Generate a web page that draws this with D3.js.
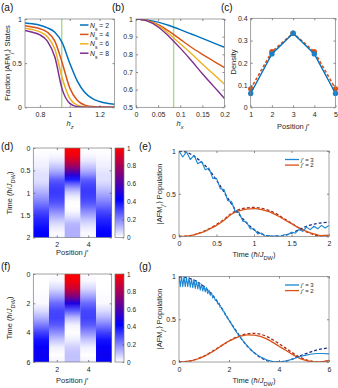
<!DOCTYPE html>
<html>
<head>
<meta charset="utf-8">
<script src="https://cdn.jsdelivr.net/npm/d3@7"></script>
<style>
  body { margin: 0; background: #fff; }
  svg { display: block; }
</style>
</head>
<body>
<div id="fig"></div>
<script>
// ---------- data ----------
// (a) fraction of |AFM_j'> states vs h_z
const hz = [0.7, 0.75, 0.8, 0.85, 0.9, 0.95, 1.0, 1.05, 1.1, 1.15, 1.2, 1.25, 1.3];
const fracN2 = [0.955, 0.945, 0.93, 0.9, 0.85, 0.73, 0.5, 0.3, 0.17, 0.1, 0.065, 0.045, 0.035];
const fracN4 = [0.925, 0.91, 0.89, 0.85, 0.75, 0.5, 0.22, 0.08, 0.025, 0.008, 0.003, 0.001, 0];
const fracN6 = [0.895, 0.88, 0.855, 0.8, 0.66, 0.33, 0.1, 0.025, 0.005, 0.001, 0, 0, 0];
const fracN8 = [0.87, 0.85, 0.82, 0.75, 0.57, 0.2, 0.045, 0.007, 0.001, 0, 0, 0, 0];
const legendA = ["2", "4", "6", "8"];
const hzMark = 0.946;

// (b) fraction vs h_x
const hx = [0, 0.025, 0.05, 0.075, 0.1, 0.125, 0.15, 0.175, 0.2];
const fracBN2 = [1, 0.995, 0.982, 0.963, 0.94, 0.915, 0.89, 0.865, 0.84];
const fracBN4 = [1, 0.992, 0.968, 0.93, 0.885, 0.84, 0.8, 0.762, 0.725];
const fracBN6 = [1, 0.99, 0.962, 0.915, 0.86, 0.805, 0.745, 0.688, 0.63];
const fracBN8 = [1, 0.989, 0.955, 0.9, 0.835, 0.765, 0.69, 0.62, 0.55];
const hxMark = 0.085;

// (c) density vs position
const posC = [1, 2, 3, 4, 5];
const densSolid = [0.062, 0.24, 0.333, 0.24, 0.062];
const densDash = [0.083, 0.25, 0.333, 0.25, 0.083];

// (d) heat map, columns j' = 1..5, rows at t = 0..2 step 0.1
const tD = [0, 0.1, 0.2, 0.3, 0.4, 0.5, 0.6, 0.7, 0.8, 0.9, 1.0, 1.1, 1.2, 1.3, 1.4, 1.5, 1.6, 1.7, 1.8, 1.9, 2.0];
const heatD1 = [0, 0.003, 0.01, 0.02, 0.025, 0.04, 0.05, 0.05, 0.07, 0.1, 0.135, 0.17, 0.21, 0.25, 0.295, 0.33, 0.36, 0.38, 0.405, 0.425, 0.42];
const heatD2 = [0, 0.005, 0.02, 0.045, 0.085, 0.13, 0.19, 0.26, 0.3, 0.32, 0.325, 0.315, 0.29, 0.25, 0.2, 0.15, 0.1, 0.06, 0.03, 0.01, 0.015];
const heatD3 = [1, 0.985, 0.94, 0.87, 0.78, 0.66, 0.52, 0.38, 0.26, 0.16, 0.08, 0.03, 0.005, 0, 0.01, 0.04, 0.08, 0.12, 0.13, 0.13, 0.13];

// (e) populations vs time, 0..2
const tE = [0, 0.05, 0.1, 0.15, 0.2, 0.25, 0.3, 0.35, 0.4, 0.45, 0.5, 0.55, 0.6, 0.65, 0.7, 0.75, 0.8, 0.85, 0.9, 0.95, 1.0,
            1.05, 1.1, 1.15, 1.2, 1.25, 1.3, 1.35, 1.4, 1.45, 1.5, 1.55, 1.6, 1.65, 1.7, 1.75, 1.8, 1.85, 1.9, 1.95, 2.0];
const popE3 = [1.0, 0.93, 0.99, 0.9, 0.95, 0.85, 0.88, 0.78, 0.8, 0.68, 0.68, 0.56, 0.55, 0.42, 0.41, 0.29, 0.28, 0.18, 0.17, 0.09, 0.09,
               0.03, 0.04, 0.0, 0.01, 0.0, 0.01, 0.0, 0.02, 0.02, 0.05, 0.04, 0.08, 0.06, 0.11, 0.08, 0.12, 0.09, 0.13, 0.1, 0.13];
const popE3dash = [1.0, 0.985, 0.94, 0.87, 0.78, 0.66, 0.52, 0.38, 0.26, 0.16, 0.08, 0.03, 0.005, 0, 0.01, 0.04, 0.08, 0.12, 0.145, 0.16, 0.165];
const popE2 = [0, 0.005, 0.02, 0.045, 0.085, 0.13, 0.19, 0.26, 0.3, 0.32, 0.325, 0.315, 0.29, 0.25, 0.2, 0.15, 0.1, 0.06, 0.03, 0.01, 0.015];
const popE2dash = [0, 0.005, 0.02, 0.05, 0.09, 0.14, 0.2, 0.27, 0.315, 0.335, 0.34, 0.33, 0.305, 0.265, 0.21, 0.155, 0.1, 0.055, 0.02, 0.005, 0.005];

// (f) heat map, rows at t = 0..6 step 0.5
const tF = [0, 0.5, 1, 1.5, 2, 2.5, 3, 3.5, 4, 4.5, 5, 5.5, 6];
const heatF1 = [0, 0, 0.002, 0.005, 0.01, 0.06, 0.13, 0.22, 0.315, 0.39, 0.435, 0.45, 0.43];
const heatF2 = [0, 0.015, 0.065, 0.15, 0.245, 0.305, 0.315, 0.27, 0.185, 0.095, 0.025, 0.0, 0.02];
const heatF3 = [1.0, 0.97, 0.88, 0.72, 0.49, 0.27, 0.11, 0.02, 0.0, 0.03, 0.08, 0.1, 0.1];

// (g) populations vs time, 0..6
const tG = [0, 0.05, 0.1, 0.15, 0.2, 0.25, 0.3, 0.35, 0.4, 0.45, 0.5, 0.55, 0.6, 0.65, 0.7, 0.75, 0.8, 0.85, 0.9, 0.95, 1.0,
            1.05, 1.1, 1.15, 1.2, 1.25, 1.3, 1.35, 1.4, 1.45, 1.5, 1.55, 1.6, 1.65, 1.7, 1.75, 1.8, 1.85, 1.9, 1.95, 2.0,
            2.25, 2.5, 2.75, 3.0, 3.25, 3.5, 3.75, 4.0, 4.25, 4.5, 4.75, 5.0, 5.25, 5.5, 5.75, 6.0];
const popG3 = [1.0, 0.88, 1.0, 0.88, 0.995, 0.88, 0.99, 0.88, 0.985, 0.875, 0.97, 0.87, 0.96, 0.86, 0.95, 0.855, 0.93, 0.84, 0.91, 0.83, 0.89,
               0.82, 0.87, 0.8, 0.84, 0.78, 0.81, 0.75, 0.77, 0.72, 0.73, 0.68, 0.69, 0.64, 0.64, 0.6, 0.59, 0.55, 0.54, 0.51, 0.49,
               0.37, 0.27, 0.18, 0.11, 0.06, 0.025, 0.005, 0.0, 0.01, 0.03, 0.055, 0.075, 0.09, 0.1, 0.1, 0.095];
const tG2 = [0, 0.25, 0.5, 0.75, 1, 1.25, 1.5, 1.75, 2, 2.25, 2.5, 2.75, 3, 3.25, 3.5, 3.75, 4, 4.25, 4.5, 4.75, 5, 5.25, 5.5, 5.75, 6];
const popG3dash = [1, 0.99, 0.97, 0.935, 0.88, 0.81, 0.72, 0.61, 0.49, 0.38, 0.27, 0.18, 0.11, 0.055, 0.02, 0.003, 0, 0.01, 0.03, 0.06, 0.09, 0.115, 0.14, 0.155, 0.165];
const popG2 = [0, 0.004, 0.015, 0.035, 0.065, 0.105, 0.15, 0.2, 0.245, 0.28, 0.305, 0.318, 0.315, 0.3, 0.27, 0.23, 0.185, 0.14, 0.095, 0.055, 0.025, 0.006, 0, 0.005, 0.02];
const popG2dash = [0, 0.004, 0.016, 0.04, 0.07, 0.11, 0.155, 0.2, 0.245, 0.285, 0.315, 0.33, 0.335, 0.325, 0.3, 0.26, 0.215, 0.165, 0.115, 0.07, 0.035, 0.012, 0.002, 0.004, 0.015];
const legendE = ["3", "2"];

// ---------- look ----------
const fam = "'Liberation Sans', Arial, Helvetica, sans-serif";
const cBlue = "#0072BD", cOrange = "#D95319", cYellow = "#EDB120", cPurple = "#7E2F8E";
const cNavy = "#1c2f86", cDarkRed = "#a8281a", cGreen = "#a9d98c";
const axisCol = "#3a3a3a", boxCol = "#7a7a7a";

const svg = d3.select("#fig").append("svg")
  .attr("width", 338).attr("height", 388)
  .attr("font-family", fam);

// colormap used by heat maps: white -> blue -> red
const cmap = d3.scaleLinear().domain([0, 0.42, 1]).range(["#ffffff", "#0000ff", "#ff0000"]);

function styleAxis(g, size) {
  g.attr("font-size", size).attr("font-family", fam);
  g.select(".domain").remove();
  g.selectAll("line").attr("stroke", axisCol).attr("stroke-width", 0.6);
  g.selectAll("text").attr("fill", "#262626");
}

// axes with inward ticks on all four sides, MATLAB style
function drawAxes(x, y, xt, yt, fx, fy) {
  const [x0, x1] = x.range();
  const [y0, y1] = y.range();
  const g = svg.append("g");
  g.append("g").attr("transform", `translate(0,${y0})`)
    .call(d3.axisBottom(x).tickValues(xt).tickFormat(fx).tickSize(-2).tickSizeOuter(0).tickPadding(5))
    .call(a => styleAxis(a, 7));
  g.append("g").attr("transform", `translate(0,${y1})`)
    .call(d3.axisTop(x).tickValues(xt).tickFormat("").tickSize(-2).tickSizeOuter(0))
    .call(a => styleAxis(a, 7));
  g.append("g").attr("transform", `translate(${x0},0)`)
    .call(d3.axisLeft(y).tickValues(yt).tickFormat(fy).tickSize(-2).tickSizeOuter(0).tickPadding(3))
    .call(a => styleAxis(a, 7));
  g.append("g").attr("transform", `translate(${x1},0)`)
    .call(d3.axisRight(y).tickValues(yt).tickFormat("").tickSize(-2).tickSizeOuter(0))
    .call(a => styleAxis(a, 7));
  g.append("rect").attr("x", x0).attr("y", y1).attr("width", x1 - x0).attr("height", y0 - y1)
    .attr("fill", "none").attr("stroke", boxCol).attr("stroke-width", 0.7);
  return g;
}

function clipFor(id, x, y) {
  const [x0, x1] = x.range();
  const [y0, y1] = y.range();
  svg.append("clipPath").attr("id", id).append("rect")
    .attr("x", x0).attr("y", y1).attr("width", x1 - x0).attr("height", y0 - y1);
  return "url(#" + id + ")";
}

function drawLine(xs, ys, x, y, color, width, dash, clip) {
  const line = d3.line().x((d, i) => x(xs[i])).y(d => y(d)).curve(d3.curveMonotoneX);
  svg.append("path").datum(ys)
    .attr("d", line)
    .attr("fill", "none")
    .attr("stroke", color)
    .attr("stroke-width", width)
    .attr("stroke-dasharray", dash || null)
    .attr("stroke-linejoin", "round")
    .attr("clip-path", clip || null);
}

function panelLabel(txt, px, py) {
  svg.append("text").attr("x", px).attr("y", py).attr("font-size", 10).attr("fill", "#111").text(txt);
}

// text made of pieces [{t, italic, sub}]
function richText(sel, parts) {
  parts.forEach(p => {
    const ts = sel.append("tspan").text(p.t);
    if (p.italic) ts.attr("font-style", "italic");
    if (p.sub) ts.attr("baseline-shift", "sub").attr("font-size", "75%");
  });
  return sel;
}

function yLabel(parts, px, py, size) {
  const t = svg.append("text").attr("transform", `translate(${px},${py}) rotate(-90)`)
    .attr("text-anchor", "middle").attr("font-size", size || 7.5).attr("fill", "#262626");
  richText(t, parts);
}

function xLabel(parts, px, py, size) {
  const t = svg.append("text").attr("x", px).attr("y", py)
    .attr("text-anchor", "middle").attr("font-size", size || 7.5).attr("fill", "#262626");
  richText(t, parts);
}

const fmtG = d3.format("~g");
const afmParts = [{ t: "|AFM" }, { t: "j′", italic: true, sub: true }, { t: "⟩" }];
const timeParts = [{ t: "Time (" }, { t: "ħ", italic: true }, { t: "/" }, { t: "J", italic: true }, { t: "DW", sub: true }, { t: ")" }];
const posParts = [{ t: "Position " }, { t: "j′", italic: true }];

// ---------- (a) ----------
{
  const x = d3.scaleLinear().domain([0.7, 1.3]).range([25, 114.5]);
  const y = d3.scaleLinear().domain([0, 1]).range([107.3, 19]);
  const clip = clipFor("clipA", x, y);
  svg.append("line").attr("x1", x(hzMark)).attr("x2", x(hzMark)).attr("y1", y(0)).attr("y2", y(1))
    .attr("stroke", cGreen).attr("stroke-width", 1.4);
  const series = [fracN2, fracN4, fracN6, fracN8];
  const cols = [cBlue, cOrange, cYellow, cPurple];
  series.forEach((s, i) => drawLine(hz, s, x, y, cols[i], 1.5, null, clip));
  drawAxes(x, y, [0.8, 1, 1.2], [0, 0.5, 1], fmtG, fmtG);
  legendA.forEach((n, i) => {
    const ly = 25 + i * 9.4;
    svg.append("line").attr("x1", 80).attr("x2", 88.5).attr("y1", ly).attr("y2", ly)
      .attr("stroke", cols[i]).attr("stroke-width", 1.5);
    const t = svg.append("text").attr("x", 90).attr("y", ly + 2.5).attr("font-size", 6.8).attr("fill", "#262626");
    richText(t, [{ t: "N", italic: true }, { t: "s", sub: true }, { t: " = " + n }]);
  });
  yLabel([{ t: "Fraction " }].concat(afmParts, [{ t: " States" }]), 10, 63);
  xLabel([{ t: "h", italic: true }, { t: "z", italic: true, sub: true }], 70, 126);
  panelLabel("(a)", 1, 11);
}

// ---------- (b) ----------
{
  const x = d3.scaleLinear().domain([0, 0.2]).range([136, 224.5]);
  const y = d3.scaleLinear().domain([0.5, 1]).range([107.3, 19]);
  const clip = clipFor("clipB", x, y);
  svg.append("line").attr("x1", x(hxMark)).attr("x2", x(hxMark)).attr("y1", y(0.5)).attr("y2", y(1))
    .attr("stroke", cGreen).attr("stroke-width", 1.4);
  const series = [fracBN2, fracBN4, fracBN6, fracBN8];
  const cols = [cBlue, cOrange, cYellow, cPurple];
  series.forEach((s, i) => drawLine(hx, s, x, y, cols[i], 1.4, null, clip));
  drawAxes(x, y, [0, 0.05, 0.1, 0.15, 0.2], [0.5, 0.6, 0.7, 0.8, 0.9, 1], fmtG, fmtG);
  xLabel([{ t: "h", italic: true }, { t: "x", italic: true, sub: true }], 180, 126);
  panelLabel("(b)", 112, 11);
}

// ---------- (c) ----------
{
  const x = d3.scaleLinear().domain([1, 5]).range([250.7, 335.5]);
  const y = d3.scaleLinear().domain([0, 0.4]).range([107.3, 18.3]);
  const lineC = d3.line().x((d, i) => x(posC[i])).y(d => y(d));
  svg.append("path").datum(densDash).attr("d", lineC).attr("fill", "none")
    .attr("stroke", cOrange).attr("stroke-width", 1.6).attr("stroke-dasharray", "3,2");
  svg.selectAll(".dotC2").data(densDash).join("circle").attr("class", "dotC2")
    .attr("cx", (d, i) => x(posC[i])).attr("cy", d => y(d)).attr("r", 2.7).attr("fill", cOrange);
  svg.append("path").datum(densSolid).attr("d", lineC).attr("fill", "none")
    .attr("stroke", cBlue).attr("stroke-width", 1.4);
  svg.selectAll(".dotC1").data(densSolid).join("circle").attr("class", "dotC1")
    .attr("cx", (d, i) => x(posC[i])).attr("cy", d => y(d)).attr("r", 2.7).attr("fill", "#1a80c8");
  drawAxes(x, y, [1, 2, 3, 4, 5], [0, 0.1, 0.2, 0.3, 0.4], fmtG, fmtG);
  yLabel([{ t: "Density" }], 236, 62);
  xLabel(posParts, 293, 129);
  panelLabel("(c)", 221, 11);
}

// ---------- heat map helper ----------
function heatMap(id, tRows, cols, tMax, y0, y1, yTicks) {
  const x = d3.scaleLinear().domain([0.5, 5.5]).range([33.3, 111.7]);
  const y = d3.scaleLinear().domain([0, tMax]).range([y0, y1]);
  const defs = svg.append("defs");
  cols.forEach((col, j) => {
    const gr = defs.append("linearGradient").attr("id", id + j)
      .attr("x1", 0).attr("y1", 0).attr("x2", 0).attr("y2", 1);
    col.forEach((v, k) => {
      gr.append("stop").attr("offset", (y(tRows[k]) - y0) / (y1 - y0)).attr("stop-color", cmap(v));
    });
    svg.append("rect")
      .attr("x", x(j + 0.5)).attr("y", y0)
      .attr("width", x(j + 1.5) - x(j + 0.5) + 0.3).attr("height", y1 - y0)
      .attr("fill", `url(#${id + j})`);
  });
  const g = svg.append("g");
  g.append("g").attr("transform", `translate(0,${y1})`)
    .call(d3.axisBottom(x).tickValues([2, 4]).tickFormat(fmtG).tickSize(-2).tickSizeOuter(0).tickPadding(5))
    .call(a => styleAxis(a, 7));
  g.append("g").attr("transform", `translate(0,${y0})`)
    .call(d3.axisTop(x).tickValues([2, 4]).tickFormat("").tickSize(-2).tickSizeOuter(0))
    .call(a => styleAxis(a, 7));
  g.append("g").attr("transform", `translate(${x.range()[0]},0)`)
    .call(d3.axisLeft(y).tickValues(yTicks).tickFormat(fmtG).tickSize(-2).tickSizeOuter(0).tickPadding(3))
    .call(a => styleAxis(a, 7));
  g.append("g").attr("transform", `translate(${x.range()[1]},0)`)
    .call(d3.axisRight(y).tickValues(yTicks).tickFormat("").tickSize(-2).tickSizeOuter(0))
    .call(a => styleAxis(a, 7));
  g.append("rect").attr("x", x.range()[0]).attr("y", y0).attr("width", x.range()[1] - x.range()[0]).attr("height", y1 - y0)
    .attr("fill", "none").attr("stroke", boxCol).attr("stroke-width", 0.7);

  // colour bar
  const cb = d3.scaleLinear().domain([0, 1]).range([y1, y0]);
  const cg = defs.append("linearGradient").attr("id", id + "cb")
    .attr("x1", 0).attr("y1", 1).attr("x2", 0).attr("y2", 0);
  cmap.domain().forEach(v => cg.append("stop").attr("offset", v).attr("stop-color", cmap(v)));
  svg.append("rect").attr("x", 115).attr("y", y0).attr("width", 9).attr("height", y1 - y0)
    .attr("fill", `url(#${id}cb)`).attr("stroke", boxCol).attr("stroke-width", 0.7);
  svg.append("g").attr("transform", "translate(124,0)")
    .call(d3.axisRight(cb).tickValues([0, 0.2, 0.4, 0.6, 0.8, 1]).tickFormat(fmtG).tickSize(-1.5).tickSizeOuter(0).tickPadding(3))
    .call(a => styleAxis(a, 6.5));
}

// ---------- (d) ----------
heatMap("gD", tD, [heatD1, heatD2, heatD3, heatD2, heatD1], 2, 148, 237.5, [0, 0.5, 1, 1.5, 2]);
yLabel(timeParts, 12, 193);
xLabel(posParts, 72, 255);
panelLabel("(d)", 1, 150);

// ---------- population panels ----------
function popPanel(id, tMax, xt, yTop, yBot, t3, p3, t3d, p3d, t2, p2, p2d, legY) {
  const x = d3.scaleLinear().domain([0, tMax]).range([179, 329]);
  const y = d3.scaleLinear().domain([0, 1]).range([yBot, yTop]);
  const clip = clipFor(id, x, y);
  drawLine(t2, p2d, x, y, cDarkRed, 1.3, "3,2", clip);
  drawLine(t2, p2, x, y, cOrange, 1.3, null, clip);
  drawLine(t3d, p3d, x, y, cNavy, 1.3, "3,2", clip);
  svg.append("path").datum(p3)
    .attr("d", d3.line().x((d, i) => x(t3[i])).y(d => y(d)))
    .attr("fill", "none").attr("stroke", "#1b86d4").attr("stroke-width", 1.1)
    .attr("stroke-linejoin", "round").attr("clip-path", clip);
  drawAxes(x, y, xt, [0, 0.5, 1], fmtG, fmtG);
  const legCols = ["#1b86d4", cOrange];
  legendE.forEach((n, i) => {
    const ly = legY + i * 5.6;
    svg.append("line").attr("x1", 285).attr("x2", 299).attr("y1", ly).attr("y2", ly)
      .attr("stroke", legCols[i]).attr("stroke-width", 1.3);
    const t = svg.append("text").attr("x", 301).attr("y", ly + 2).attr("font-size", 6).attr("fill", "#262626");
    richText(t, [{ t: "j′", italic: true }, { t: " = " + n }]);
  });
}

// ---------- (e) ----------
popPanel("clipE", 2, [0, 0.5, 1, 1.5, 2], 151, 236.5, tE, popE3, tD, popE3dash, tD, popE2, popE2dash, 159.5);
yLabel(afmParts.concat([{ t: " Population" }]), 162, 194);
xLabel(timeParts, 254, 257);
panelLabel("(e)", 139, 150);

// ---------- (f) ----------
heatMap("gF", tF, [heatF1, heatF2, heatF3, heatF2, heatF1], 6, 274, 362, [0, 2, 4, 6]);
yLabel(timeParts, 12, 318);
xLabel(posParts, 72, 383);
panelLabel("(f)", 1, 270);

// ---------- (g) ----------
popPanel("clipG", 6, [0, 2, 4, 6], 276.5, 362, tG, popG3, tG2, popG3dash, tG2, popG2, popG2dash, 285);
yLabel(afmParts.concat([{ t: " Population" }]), 162, 319);
xLabel(timeParts, 254, 383);
panelLabel("(g)", 139, 270);
</script>
